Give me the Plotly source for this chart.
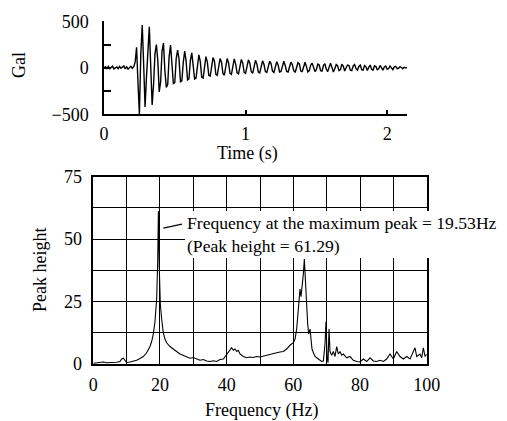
import plotly.graph_objects as go

# ---------------- data ----------------
dt = 0.01
accel_gal = [
    0, 12, -8, 15, -10, 5, 18, -12, 3, 10,
    -10, 14, -6, 8, 20, -12, 10, -15, 6, 16,
    -5, 12, 60, 220, -160, -500, 150, 460, 40, -420,
    -100, 200, 440, 20, -400, -180, 150, 250, 80, -260,
    -150, 180, 265, -30, -210, -180, 120, 245, 60, -170,
    -160, 100, 190, 90, -150, -140, 60, 180, 70, -130,
    -120, 80, 160, 40, -120, -110, 50, 140, 70, -100,
    -110, 40, 120, 60, -80, -90, 30, 110, 70, -70,
    -80, 20, 100, 60, -60, -80, 20, 100, 50, -60,
    -70, 30, 95, 40, -55, -65, 20, 90, 50, -50,
    -60, 10, 85, 50, -40, -60, 10, 80, 40, -45,
    -55, 15, 75, 35, -40, -50, 5, 70, 45, -35,
    -50, 10, 65, 30, -45, -40, 20, 70, 25, -40,
    -45, 15, 60, 35, -30, -50, 10, 55, 40, -35,
    -40, 25, 60, 10, -45, -30, 30, 50, -10, -40,
    -20, 40, 30, -30, -35, 25, 45, -15, -40, 10,
    50, 5, -45, -10, 35, 20, -30, -20, 40, 15,
    -35, 0, 30, 25, -25, -30, 20, 35, -10, -25,
    15, 30, -20, -25, 25, 10, -30, 5, 30, -15,
    -25, 20, 15, -20, -10, 25, 5, -25, 10, 20,
    -15, -10, 20, 5, -20, 10, 15, -10, -5, 10,
    5, -10, 5, 0, 0,
]
time_s = [round(i * dt, 2) for i in range(len(accel_gal))]

freq_hz = [
    0, 1, 2, 3, 4, 5, 6, 7, 8, 8.5, 9, 9.5, 10, 11, 12, 13, 14, 15, 16, 17,
    17.5, 18, 18.5, 19, 19.3, 19.53, 19.8, 20.1, 20.5, 21, 21.5, 22, 23, 24,
    25, 26, 27, 28, 29, 30, 31, 32, 33, 34, 35, 36, 37, 38, 39, 40, 40.5, 41,
    41.5, 42, 42.5, 43, 43.5, 44, 45, 46, 47, 48, 49, 50, 51, 52, 53, 54, 55,
    56, 57, 58, 59, 60, 60.5, 61, 61.5, 62, 62.3, 62.6, 63, 63.3, 63.6, 64,
    64.3, 64.6, 65, 65.3, 65.6, 66, 66.5, 67, 67.5, 68, 68.5, 69, 69.5, 69.8,
    70.1, 70.4, 70.7, 71, 71.5, 72, 72.5, 73, 73.5, 74, 74.5, 75, 76, 77, 78,
    79, 80, 81, 82, 83, 84, 85, 86, 87, 88, 89, 90, 91, 92, 93, 94, 95, 96,
    96.5, 97, 98, 98.5, 99, 99.5, 100,
]
peak_height = [
    0.3, 0.5, 0.4, 0.8, 0.5, 0.6, 0.4, 0.7, 1.0, 2.0, 2.3, 1.2, 0.6, 0.8, 1.0,
    1.5, 2.2, 3.0, 4.5, 7.0, 9.0, 12.0, 17.0, 26.0, 40.0, 61.29, 38.0, 24.0,
    18.0, 12.5, 10.0, 8.5, 7.0, 5.8, 5.0, 4.0, 3.5, 2.8, 2.3, 2.6, 2.0, 1.5,
    1.8, 1.2, 1.0, 1.3, 1.0, 1.8, 2.0, 4.0, 5.0, 5.5, 6.5, 5.5, 6.0, 5.0, 5.5,
    4.0, 3.0, 2.5, 2.8, 2.6, 3.0, 2.8, 3.2, 3.5, 3.8, 4.2, 4.5, 4.8, 5.0, 6.0,
    7.5, 8.5, 10.0, 14.0, 22.0, 30.0, 27.0, 30.0, 36.0, 42.0, 32.0, 24.0, 16.0,
    12.0, 14.0, 10.0, 6.0, 4.5, 3.0, 2.5, 2.0, 1.5, 1.0, 1.2, 8.0, 17.0, 3.0,
    0.5, 14.0, 5.0, 3.5, 5.0, 3.0, 7.0, 4.0, 5.0, 3.5, 4.0, 2.5, 3.0, 1.5, 1.0,
    0.8, 2.0, 1.0, 2.5, 1.2, 1.0, 1.5, 1.0, 2.0, 4.0, 2.0, 5.0, 3.0, 2.0, 3.0,
    2.0, 5.0, 6.5, 3.0, 4.0, 2.5, 6.5, 3.0, 4.0,
]

top_yticks = [-500, -250, 0, 250, 500]
top_yticklabels = ["\u2212500", "", "0", "", "500"]
top_xticks = [0, 1, 2]
bot_xticks = [0, 10, 20, 30, 40, 50, 60, 70, 80, 90, 100]
bot_xticklabels = ["0", "", "20", "", "40", "", "60", "", "80", "", "100"]
bot_yticks = [0, 12.5, 25, 37.5, 50, 62.5, 75]
bot_yticklabels = ["0", "", "25", "", "50", "", "75"]

max_freq = 19.53
max_peak = 61.29

# ---------------- figure ----------------
W, H = 507, 421
FONT = "Liberation Serif, Times New Roman, serif"

def fx(px):
    return px / W

def fy(py):
    return (H - py) / H

fig = go.Figure()
fig.add_trace(go.Scatter(x=time_s, y=accel_gal, mode="lines",
                         line=dict(color="black", width=1.4),
                         xaxis="x", yaxis="y", showlegend=False))
fig.add_trace(go.Scatter(x=freq_hz, y=peak_height, mode="lines",
                         line=dict(color="black", width=1.1),
                         xaxis="x2", yaxis="y2", showlegend=False))

axis_font = dict(family=FONT, size=18, color="black")

fig.update_layout(
    width=W, height=H,
    margin=dict(l=0, r=0, t=0, b=0, autoexpand=False),
    paper_bgcolor="white", plot_bgcolor="white",
    font=axis_font,
    xaxis=dict(domain=[fx(104), fx(407)], range=[0, 2.14], anchor="y",
               automargin=False,
               showgrid=False, zeroline=False, showline=True,
               linecolor="black", linewidth=1.5,
               tickvals=top_xticks, ticks="inside", ticklen=5,
               tickcolor="black", tickwidth=1.5, tickfont=axis_font,
               ticklabelstandoff=2),
    yaxis=dict(domain=[fy(114.3), fy(21.3)], range=[-500, 500], anchor="x",
               automargin=False,
               showgrid=False, zeroline=False, showline=True,
               linecolor="black", linewidth=1.5,
               tickvals=top_yticks, ticktext=top_yticklabels,
               ticks="inside", ticklen=7, tickcolor="black", tickwidth=1.5,
               tickfont=axis_font, ticklabelstandoff=10),
    xaxis2=dict(domain=[fx(93.3), fx(426.7)], range=[0, 100], anchor="y2",
                automargin=False,
                showgrid=True, gridcolor="black", gridwidth=1.3,
                zeroline=False, showline=True, mirror=True,
                linecolor="black", linewidth=1.5,
                tickvals=bot_xticks, ticktext=bot_xticklabels,
                ticks="", tickfont=axis_font, ticklabelstandoff=4),
    yaxis2=dict(domain=[fy(364), fy(176.7)], range=[0, 75], anchor="x2",
                automargin=False,
                showgrid=True, gridcolor="black", gridwidth=1.3,
                zeroline=False, showline=True, mirror=True,
                linecolor="black", linewidth=1.5,
                tickvals=bot_yticks, ticktext=bot_yticklabels,
                ticks="", tickfont=axis_font, ticklabelstandoff=6),
)

# axis titles as annotations (positioned in paper pixels)
fig.add_annotation(text="Gal", x=fx(19), y=fy(65), xref="paper", yref="paper",
                   showarrow=False, textangle=-90, font=axis_font,
                   xanchor="center", yanchor="middle")
fig.add_annotation(text="Time (s)", x=fx(247.5), y=fy(153), xref="paper", yref="paper",
                   showarrow=False, font=axis_font, xanchor="center", yanchor="middle")
fig.add_annotation(text="Peak height", x=fx(40), y=fy(270), xref="paper", yref="paper",
                   showarrow=False, textangle=-90, font=axis_font,
                   xanchor="center", yanchor="middle")
fig.add_annotation(text="Frequency (Hz)", x=fx(261), y=fy(410), xref="paper", yref="paper",
                   showarrow=False, font=axis_font, xanchor="center", yanchor="middle")

# peak annotation with white background
note_font = dict(family=FONT, size=17.6, color="black")
fig.add_annotation(
    text=f"Frequency at the maximum peak = {max_freq:.2f}Hz<br>(Peak height = {max_peak:.2f})",
    x=27.6, y=51.8, xref="x2", yref="y2", showarrow=False,
    xanchor="left", yanchor="middle", align="left",
    bgcolor="white", borderpad=2, borderwidth=0, font=note_font,
)
fig.add_shape(type="line", x0=21, y0=54.4, x1=26.6, y1=56.0,
              xref="x2", yref="y2", line=dict(color="black", width=1.2))

fig.write_html(
    "out.html",
    config={"displayModeBar": False},
    post_script="document.body.style.margin='0';document.body.style.overflow='hidden';",
)
